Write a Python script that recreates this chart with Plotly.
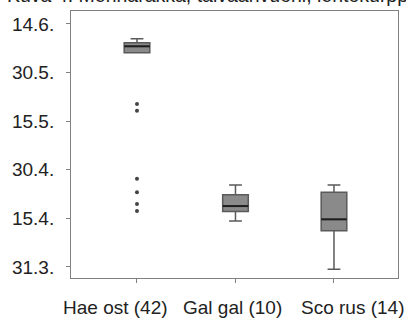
import plotly.graph_objects as go

# Categories
categories = ["Hae ost (42)", "Gal gal (10)", "Sco rus (14)"]

# Box statistics, day of year (31.3. = day 90)
upper_fence = [160.4, 115.3, 115.3]
q3 = [159.2, 112.3, 113.1]
median = [158.1, 108.8, 104.7]
q1 = [156.1, 107.1, 101.2]
lower_fence = [156.1, 104.2, 89.3]

# Outliers (Hae ost)
outlier_cat = [0, 0, 0, 0, 0, 0]
outlier_vals = [140.3, 138.2, 117.2, 113.1, 109.4, 107.3]

# Y tick labels (dates)
tick_days = [90, 105, 120, 135, 150, 165]
tick_labels = ["31.3.", "15.4.", "30.4.", "15.5.", "30.5.", "14.6."]

xpos = list(range(len(categories)))
box_w = 0.26
label_x = [0.135, 0.495, 0.862]  # paper positions of category labels

fig = go.Figure()
fig.add_trace(go.Box(
    x=xpos, q1=q1, median=median, q3=q3,
    lowerfence=lower_fence, upperfence=upper_fence,
    width=box_w, whiskerwidth=0.5,
    fillcolor="#8a8a8a", line=dict(color="#5a5a5a", width=1.5),
    boxpoints=False, showlegend=False, hoverinfo="skip",
))
# darker median lines
for i, m in zip(xpos, median):
    fig.add_trace(go.Scatter(
        x=[i - box_w / 2, i + box_w / 2], y=[m, m], mode="lines",
        line=dict(color="#1e1e1e", width=2), showlegend=False, hoverinfo="skip",
    ))
fig.add_trace(go.Scatter(
    x=outlier_cat, y=outlier_vals, mode="markers",
    marker=dict(color="#444444", size=4), showlegend=False, hoverinfo="skip",
))

for lx, name in zip(label_x, categories):
    fig.add_annotation(
        text=name, xref="paper", yref="paper", x=lx, y=0,
        xanchor="center", yanchor="middle", yshift=-29, showarrow=False,
        font=dict(size=19, color="#222222"),
    )

fig.add_annotation(
    text="Kuva 4. Meriharakka, taivaanvuohi, lehtokurppa.",
    xref="paper", yref="paper", x=-0.202, y=1, xanchor="left", yanchor="bottom",
    showarrow=False, font=dict(size=19.5, color="#222222"), yshift=3,
)

fig.update_layout(
    width=406, height=322,
    margin=dict(l=71, r=8, t=11, b=44),
    paper_bgcolor="white", plot_bgcolor="white",
    font=dict(family="Liberation Sans, Arial, sans-serif", size=19, color="#222222"),
    xaxis=dict(
        range=[-0.67, 2.65], tickvals=xpos, ticktext=["", "", ""],
        tickangle=0, automargin=False,
        showgrid=False, zeroline=False, showline=True, mirror=True,
        linecolor="#808080", linewidth=1, ticks="outside", ticklen=4,
        tickcolor="#808080",
    ),
    yaxis=dict(
        range=[86.6, 169], tickvals=tick_days, ticktext=tick_labels,
        automargin=False,
        showgrid=False, zeroline=False, showline=True, mirror=True,
        linecolor="#808080", linewidth=1, ticks="outside", ticklen=4,
        tickcolor="#808080", ticklabelstandoff=8,
    ),
)

fig.write_html("out.html")
